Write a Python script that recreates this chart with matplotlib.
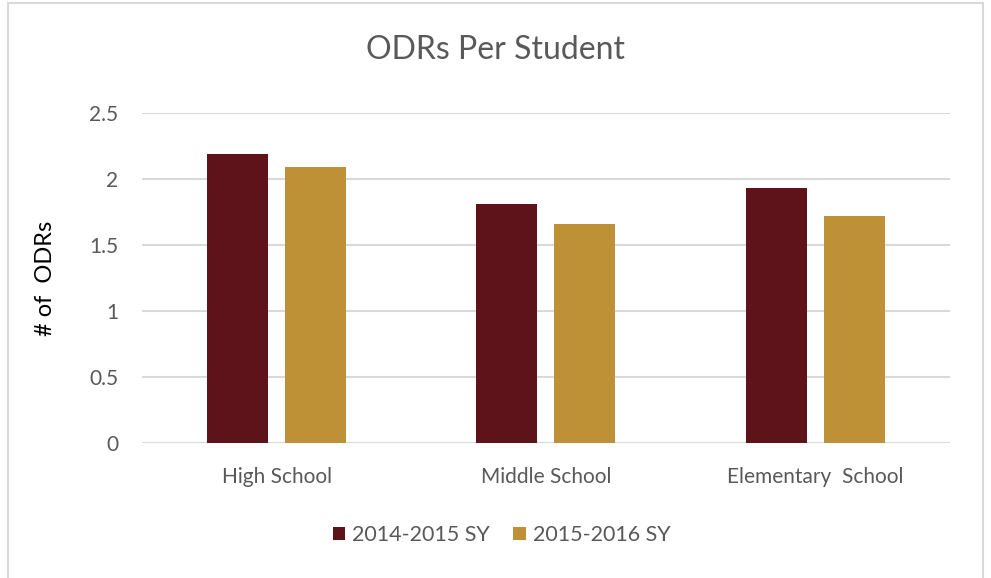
import matplotlib
matplotlib.use("Agg")
import matplotlib.pyplot as plt
import numpy as np
from matplotlib.patches import Rectangle, Patch

# 各学段每名学生的平均 ODR 数
schools = ["High School", "Middle School", "Elementary  School"]
sy_2014_2015 = [2.19, 1.81, 1.93]
sy_2015_2016 = [2.09, 1.66, 1.72]
series_names = ["2014-2015 SY", "2015-2016 SY"]
y_ticks = [0, 0.5, 1, 1.5, 2, 2.5]
y_tick_labels = ["0", "0.5", "1", "1.5", "2", "2.5"]

maroon = "#5E1219"
gold = "#BF9137"
grey_text = "#595959"
grid_grey = "#D9D9D9"

plt.rcParams["font.family"] = ["Lato", "DejaVu Sans"]

fig = plt.figure(figsize=(9.91, 5.78), dpi=100)
ax = fig.add_axes([0.1433, 0.2336, 0.8153, 0.5709])

# 图表外框
fig.patches.append(Rectangle((8 / 991, -0.05), 975 / 991, 1 - 3 / 578 + 0.05,
                             transform=fig.transFigure, fill=False,
                             edgecolor=grid_grey, linewidth=1.5))

x = np.arange(len(schools))
w = 0.2265
off = 0.1448
ax.bar(x - off, sy_2014_2015, width=w, color=maroon, zorder=3)
ax.bar(x + off, sy_2015_2016, width=w, color=gold, zorder=3)

ax.set_xlim(-0.5, len(schools) - 0.5)
ax.set_ylim(0, 2.5)
ax.set_yticks(y_ticks)
ax.set_yticklabels(y_tick_labels)
ax.set_xticks(x)
ax.set_xticklabels(schools)
ax.tick_params(axis="both", length=0, labelsize=15, colors=grey_text)
ax.tick_params(axis="y", pad=17)
ax.tick_params(axis="x", pad=17)

ax.yaxis.grid(True, color=grid_grey, linewidth=1.5, zorder=0)
ax.set_axisbelow(True)
for s in ax.spines.values():
    s.set_visible(False)

ax.set_ylabel("# of  ODRs", fontsize=17, color="black", labelpad=24)
fig.text(0.5, 0.914, "ODRs Per Student", ha="center", va="center",
         fontsize=23, color=grey_text)

handles = [Patch(facecolor=maroon), Patch(facecolor=gold)]
fig.legend(handles, series_names, loc="center", bbox_to_anchor=(0.506, 0.074),
           ncol=2, frameon=False, fontsize=15.5, handlelength=0.6,
           handleheight=0.6, handletextpad=0.3, columnspacing=1.1,
           labelcolor=grey_text)

fig.savefig("out.png", dpi=100)
